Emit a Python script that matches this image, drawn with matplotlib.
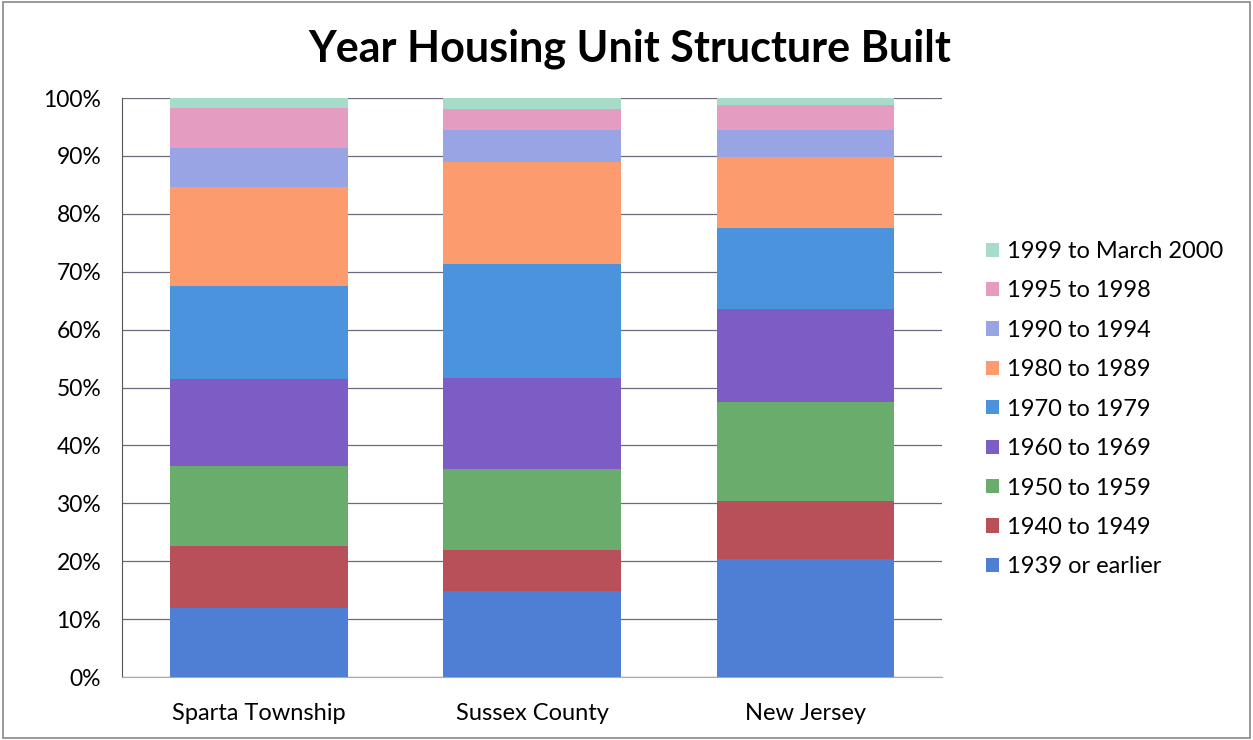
import numpy as np
import matplotlib.pyplot as plt
from matplotlib.patches import Rectangle

# Data (shares of housing units, %)
places = ["Sparta Township", "Sussex County", "New Jersey"]
periods = ["1939 or earlier", "1940 to 1949", "1950 to 1959", "1960 to 1969",
           "1970 to 1979", "1980 to 1989", "1990 to 1994", "1995 to 1998",
           "1999 to March 2000"]
sparta = [11.9, 10.8, 13.7, 15.1, 16.1, 17.0, 6.8, 6.9, 1.7]
sussex = [14.9, 7.0, 14.0, 15.7, 19.8, 17.5, 5.6, 3.6, 1.9]
new_jersey = [20.3, 10.1, 17.1, 16.0, 14.0, 12.4, 4.6, 4.3, 1.2]

colors = ["#4f7fd4", "#b8505a", "#6aac6c", "#7d5cc6", "#4b93dc",
          "#fc9b6e", "#98a4e4", "#e49cc0", "#a6dcc8"]

plt.rcParams["font.family"] = ["Lato", "DejaVu Sans"]

values = np.array([sparta, sussex, new_jersey])
x = np.arange(len(places))

fig = plt.figure(figsize=(12.53, 7.40), dpi=100)
ax = fig.add_axes([0.0974, 0.0851, 0.6544, 0.7824])

bottom = np.zeros(len(places))
bars = []
for i, period in enumerate(periods):
    b = ax.bar(x, values[:, i], bottom=bottom, width=0.65, color=colors[i],
               label=period, zorder=2)
    bars.append(b)
    bottom += values[:, i]

ax.set_xlim(-0.5, 2.5)
ax.set_ylim(0, 100)
ax.set_yticks(np.arange(0, 101, 10))
ax.set_yticklabels([f"{v}%" for v in range(0, 101, 10)], fontsize=16.5)
ax.set_xticks(x)
ax.set_xticklabels(places, fontsize=17)
ax.yaxis.grid(True, color="#6a6a80", linewidth=0.9, zorder=0)
for s in ["top", "right"]:
    ax.spines[s].set_visible(False)
ax.spines["left"].set_color("#555555")
ax.spines["bottom"].set_color("#aaaaaa")
ax.tick_params(axis="y", length=0, pad=15)
ax.tick_params(axis="x", length=0, pad=19)

fig.suptitle("Year Housing Unit Structure Built", x=0.503, y=0.962,
             fontsize=31, fontweight="bold")

handles = [b[0] for b in bars][::-1]
labels = periods[::-1]
fig.legend(handles, labels, loc="upper left", bbox_to_anchor=(0.770, 0.703),
           frameon=False, fontsize=17, handlelength=0.55, handleheight=0.55,
           handletextpad=0.35, labelspacing=0.78)

fig.add_artist(Rectangle((0.002, 0.003), 0.996, 0.994, transform=fig.transFigure,
                         fill=False, edgecolor="#888888", linewidth=1.2))

fig.savefig("out.png", dpi=100)
